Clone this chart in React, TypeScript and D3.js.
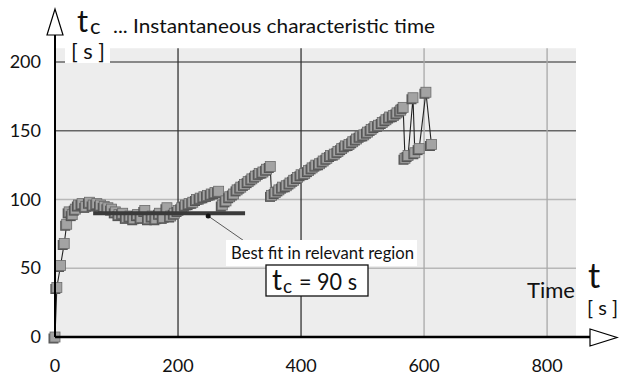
import React from 'react';
import * as d3 from 'd3';

// Instantaneous characteristic time t_c [s] vs time t [s]
const times = [
  0, 3, 9, 15, 19, 23, 28, 33, 38, 44, 50, 56, 62, 68, 74, 80, 86, 92, 98, 104,
  110, 116, 122, 128, 134, 140, 146, 152, 158, 164, 170, 176, 182, 188, 194, 200,
  206, 212, 218, 224, 230, 236, 242, 248, 254, 260, 266, 272, 278, 284, 290, 296,
  302, 308, 314, 320, 326, 332, 338, 344, 350, 352, 358, 364, 370, 376, 382, 388,
  394, 400, 406, 412, 418, 424, 430, 436, 442, 448, 454, 460, 466, 472, 478, 484,
  490, 496, 502, 508, 514, 520, 526, 532, 538, 544, 550, 556, 562, 566, 569, 574,
  582, 585, 592, 603, 612,
];
const tcValues = [
  0, 36, 52, 68, 82, 91, 89, 93, 96, 97, 95, 98, 96, 97, 96, 95, 94, 93, 91, 89,
  90, 87, 88, 86, 89, 87, 92, 86, 88, 86, 90, 87, 94, 88, 90, 92,
  94, 96, 97, 98, 100, 101, 102, 103, 104, 105, 106, 96, 99, 102, 104, 107,
  109, 111, 113, 115, 117, 119, 120, 122, 124, 103, 105, 107, 109, 110, 112, 114,
  116, 118, 119, 121, 123, 125, 126, 128, 130, 132, 133, 135, 137, 139, 140, 142,
  144, 146, 147, 149, 151, 153, 154, 156, 158, 160, 161, 163, 165, 167, 130, 132,
  174, 134, 137, 178, 140,
];
const xTicks = [0, 200, 400, 600, 800];
const yTicks = [0, 50, 100, 150, 200];
const bestFit = { from: 62, to: 309, value: 90 };
const fitPointer = { t: 249, tc: 88 };

const FONT = 'Lato, "DejaVu Sans", sans-serif';

export default function App() {
  const x = d3.scaleLinear().domain([0, 847]).range([55, 576]);
  const y = d3.scaleLinear().domain([0, 210]).range([337, 48.25]);
  const points = times.map((t, i) => [t, tcValues[i]] as [number, number]);
  const line = d3.line<[number, number]>().x(d => x(d[0])).y(d => y(d[1]));
  const s = 10;

  return (
    <svg width={620} height={376} style={{ position: 'absolute', left: 0, top: 0, background: '#fff' }}>
      <rect x={x(0)} y={y(210)} width={x(847) - x(0)} height={y(0) - y(210)} fill="#ededed" />

      {/* grid */}
      {yTicks.filter(v => v > 0).map(v => (
        <line key={'gy' + v} x1={x(0)} x2={x(847)} y1={y(v)} y2={y(v)}
          stroke={v >= 150 ? '#666' : '#b8b8b8'} strokeWidth={1.3} />
      ))}
      {xTicks.filter(v => v > 0).map(v => (
        <line key={'gx' + v} x1={x(v)} x2={x(v)} y1={y(210)} y2={y(0)}
          stroke={v <= 400 ? '#333' : '#a8a8a8'} strokeWidth={1.3} />
      ))}

      {/* white label patch under y unit */}
      <rect x={65} y={40} width={45} height={23} fill="#fff" />

      {/* data */}
      <path d={line(points) ?? ''} fill="none" stroke="#222" strokeWidth={1.1} />
      {points.map(([t, v], i) => (
        <g key={'p' + i}>
          <rect x={x(t) - s / 2 - 1.5} y={y(v) - s / 2 + 1.5} width={s} height={s} fill="#555" />
          <rect x={x(t) - s / 2} y={y(v) - s / 2} width={s} height={s} fill="#a3a3a3" stroke="#6a6a6a" strokeWidth={0.8} />
        </g>
      ))}

      {/* best fit */}
      <line x1={x(bestFit.from)} x2={x(bestFit.to)} y1={y(bestFit.value)} y2={y(bestFit.value)}
        stroke="#3a3a3a" strokeWidth={4} />
      <line x1={x(fitPointer.t)} y1={y(fitPointer.tc)} x2={250} y2={245} stroke="#333" strokeWidth={0.8} />
      <circle cx={x(fitPointer.t)} cy={y(fitPointer.tc)} r={2.5} fill="#111" />
      <rect x={226} y={240} width={191} height={26} fill="#fff" />
      <text x={231} y={259} fontFamily={FONT} fontSize={17} fill="#111" textLength={183} lengthAdjust="spacingAndGlyphs">
        Best fit in relevant region
      </text>
      <rect x={266} y={265} width={102} height={31} fill="#fff" stroke="#111" strokeWidth={1.3} />
      <text x={272} y={290} fontFamily={FONT} fontSize={28} fill="#111">t</text>
      <text x={283} y={293} fontFamily={FONT} fontSize={19} fill="#111">c</text>
      <text x={299} y={290} fontFamily={FONT} fontSize={24} fill="#111" textLength={58} lengthAdjust="spacingAndGlyphs">= 90 s</text>

      {/* axes */}
      <line x1={x(0)} x2={590} y1={y(0)} y2={y(0)} stroke="#000" strokeWidth={2.5} />
      <polygon points="590,329 590,346 617,337.5" fill="#fff" stroke="#000" strokeWidth={1.2} />
      <line x1={x(0)} x2={x(0)} y1={y(0)} y2={35} stroke="#000" strokeWidth={2} />
      <polygon points="47,35 63,35 55,9" fill="#fff" stroke="#000" strokeWidth={1.2} />

      {yTicks.map(v => (
        <text key={'ty' + v} x={41} y={y(v) + 6} textAnchor="end" fontFamily={FONT} fontSize={18} fill="#111">{v}</text>
      ))}
      {xTicks.map(v => (
        <text key={'tx' + v} x={x(v)} y={372} textAnchor="middle" fontFamily={FONT} fontSize={18} fill="#111">{v}</text>
      ))}

      {/* titles */}
      <text x={77} y={32} fontFamily={FONT} fontSize={31} fill="#111">t</text>
      <text x={90} y={34} fontFamily={FONT} fontSize={22} fill="#111">c</text>
      <text x={113} y={33} fontFamily={FONT} fontSize={20} fill="#111" textLength={322} lengthAdjust="spacingAndGlyphs">
        ... Instantaneous characteristic time
      </text>
      <text x={71} y={59} fontFamily={FONT} fontSize={21} fill="#111" textLength={34} lengthAdjust="spacingAndGlyphs">[ s ]</text>

      <text x={527} y={298} fontFamily={FONT} fontSize={22} fill="#111" textLength={48} lengthAdjust="spacingAndGlyphs">Time</text>
      <text x={588} y={288} fontFamily={FONT} fontSize={34} fill="#111">t</text>
      <text x={587} y={315} fontFamily={FONT} fontSize={20} fill="#111" textLength={31} lengthAdjust="spacingAndGlyphs">[ s ]</text>
    </svg>
  );
}
